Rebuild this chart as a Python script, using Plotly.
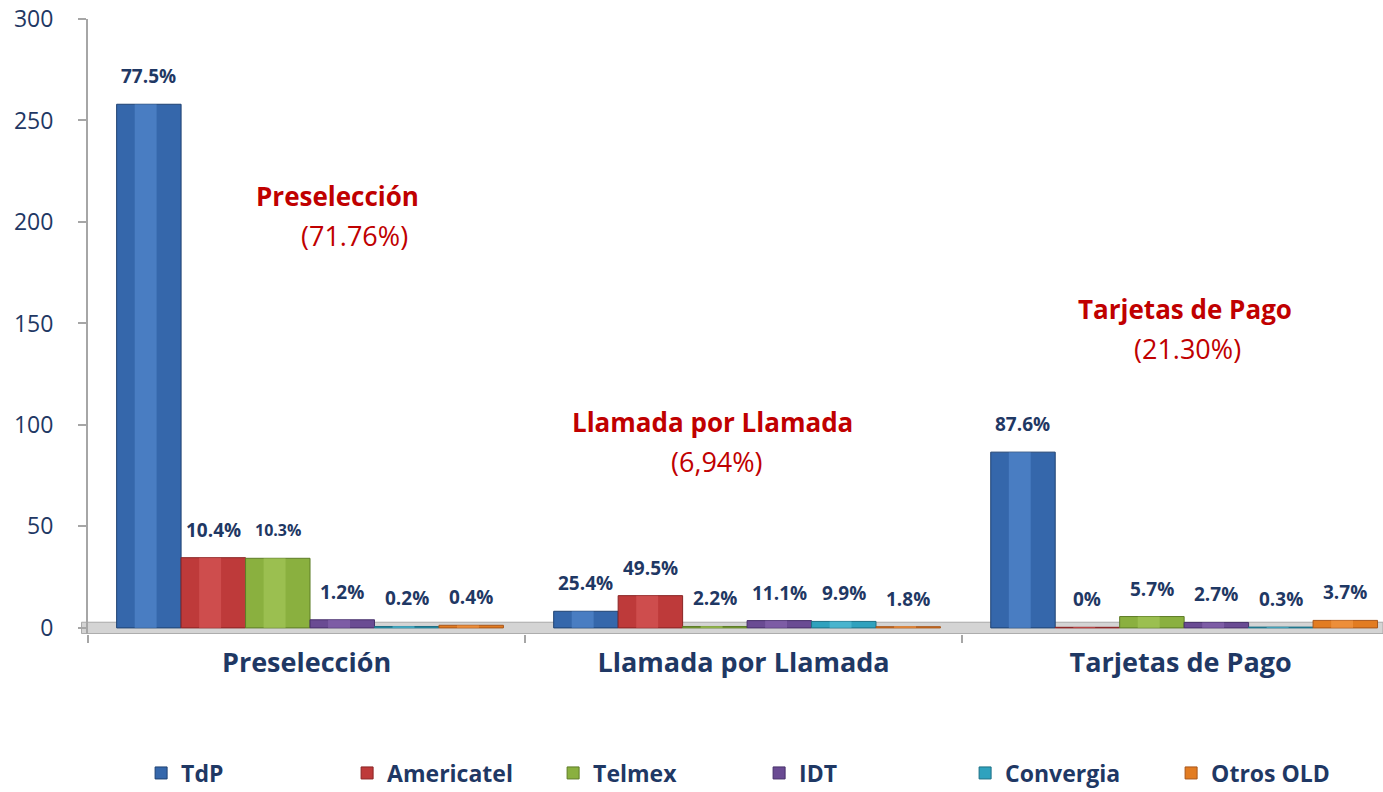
import plotly.graph_objects as go

# ---------------- data ----------------
categories = ["Preselección", "Llamada por Llamada", "Tarjetas de Pago"]
operators = ["TdP", "Americatel", "Telmex", "IDT", "Convergia", "Otros OLD"]

tdp = [258.0, 8.2, 86.6]
americatel = [34.6, 15.9, 0.3]
telmex = [34.3, 0.7, 5.6]
idt = [4.0, 3.6, 2.7]
convergia = [0.7, 3.2, 0.4]
otros = [1.3, 0.6, 3.7]

lbl_tdp = ["77.5%", "25.4%", "87.6%"]
lbl_americatel = ["10.4%", "49.5%", "0%"]
lbl_telmex = ["10.3%", "2.2%", "5.7%"]
lbl_idt = ["1.2%", "11.1%", "2.7%"]
lbl_convergia = ["0.2%", "9.9%", "0.3%"]
lbl_otros = ["0.4%", "1.8%", "3.7%"]

segment_titles = ["Preselección", "Llamada por Llamada", "Tarjetas de Pago"]
segment_shares = ["(71.76%)", "(6,94%)", "(21.30%)"]

y_ticks = [0, 50, 100, 150, 200, 250, 300]

# ---------------- styles ----------------
series_values = [tdp, americatel, telmex, idt, convergia, otros]
series_labels = [lbl_tdp, lbl_americatel, lbl_telmex, lbl_idt, lbl_convergia, lbl_otros]
base_colors = ["#3567AB", "#BE3A3A", "#8AB03F", "#6A4B93", "#2FA2BE", "#E27C22"]
edge_colors = ["#1F4272", "#8A2424", "#5E7C27", "#47306A", "#1D7085", "#A8561A"]
hi_colors = ["#5A8FD6", "#DB5C5C", "#A9CC5E", "#8C6CB5", "#5CC3DA", "#F59C4C"]

NAVY = "#1F3864"
RED = "#C00000"
FONT = "Open Sans"

group_w = 0.885
bw = group_w / len(operators)
shift = 0.008

fig = go.Figure()

# floor slab
fig.add_shape(type="rect", xref="paper", yref="y", x0=-0.005, x1=1.0, y0=-2.8, y1=2.8,
              fillcolor="#D4D4D4", line=dict(color="#A8A8A8", width=1), layer="below")

for j, (name, vals) in enumerate(zip(operators, series_values)):
    off = -group_w / 2 + j * bw + shift
    fig.add_trace(go.Bar(
        name=name, x=categories, y=vals, offset=off, width=bw,
        marker=dict(color=base_colors[j], line=dict(color=edge_colors[j], width=1)),
        showlegend=True,
    ))
    # highlight stripe to suggest cylinder shading
    fig.add_trace(go.Bar(
        name=name, x=categories, y=vals, offset=off + bw * 0.28, width=bw * 0.34,
        marker=dict(color=hi_colors[j], line=dict(width=0), opacity=0.55),
        showlegend=False, hoverinfo="skip",
    ))

# value labels
annotations = []
for j, (vals, labs) in enumerate(zip(series_values, series_labels)):
    off = -group_w / 2 + j * bw + shift
    for i, (v, t) in enumerate(zip(vals, labs)):
        size = 16 if (i == 0 and j == 2) else 19
        annotations.append(dict(
            x=i + off + bw / 2, y=v, xref="x", yref="y", text=f"<b>{t}</b>",
            showarrow=False, yanchor="middle", yshift=28,
            font=dict(family=FONT, size=size, color=NAVY),
        ))

# segment titles (red)
title_pos = [(0.07, 213, 0.11, 193.5), (0.93, 101.5, 0.94, 82), (2.01, 157, 2.015, 137.5)]
for (tx, ty, sx, sy), t, s in zip(title_pos, segment_titles, segment_shares):
    annotations.append(dict(x=tx, y=ty, xref="x", yref="y", text=f"<b>{t}</b>", showarrow=False,
                            font=dict(family=FONT, size=26, color=RED)))
    annotations.append(dict(x=sx, y=sy, xref="x", yref="y", text=s, showarrow=False,
                            font=dict(family=FONT, size=27, color=RED)))

fig.update_layout(
    width=1383, height=792,
    margin=dict(l=88, r=0, t=19, b=158, autoexpand=False),
    paper_bgcolor="white", plot_bgcolor="white",
    barmode="overlay",
    font=dict(family=FONT, color=NAVY),
    annotations=annotations,
    showlegend=True,
    legend=dict(orientation="h", x=0.041, xanchor="left", y=-0.226, yanchor="middle",
                font=dict(family=FONT, size=23, color=NAVY, weight="bold"),
                entrywidth=161, traceorder="normal", itemwidth=30),
    xaxis=dict(
        type="category", range=[-0.5, 2.463], showgrid=False, showline=False, zeroline=False,
        automargin=False,
        ticks="outside", tickson="boundaries", ticklen=8, tickcolor="#A6A6A6", tickwidth=2,
        tickfont=dict(family=FONT, size=27, color=NAVY, weight="bold"),
        ticklabelstandoff=10,
    ),
    yaxis=dict(
        range=[-3, 300], tickvals=y_ticks, showgrid=False, zeroline=False, automargin=False,
        showline=True, linecolor="#A6A6A6", linewidth=2,
        ticks="outside", ticklen=8, tickcolor="#A6A6A6", tickwidth=2,
        tickfont=dict(family=FONT, size=23, color=NAVY),
        ticklabelstandoff=20, ticklabeloverflow="allow",
    ),
)

fig.write_html(
    "out.html",
    config={"displayModeBar": False},
    post_script="document.body.style.margin='0';document.body.style.overflow='hidden';",
)
